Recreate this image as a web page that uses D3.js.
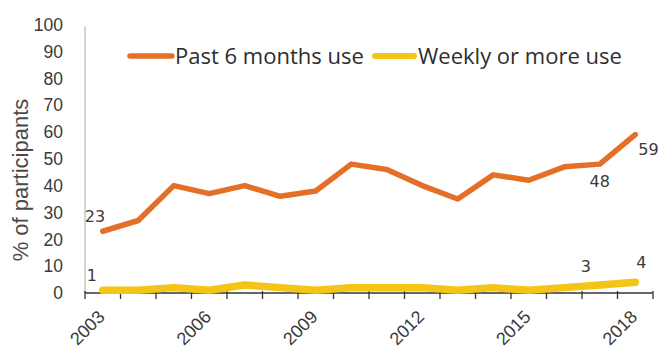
<!DOCTYPE html>
<html>
<head>
<meta charset="utf-8">
<script src="https://cdn.jsdelivr.net/npm/d3@7/dist/d3.min.js"></script>
<style>
  html, body { margin: 0; padding: 0; background: #fff; }
  svg { display: block; }
</style>
</head>
<body>
<svg id="chart" width="658" height="349"></svg>
<script>
// Survey years
const years = [2003, 2004, 2005, 2006, 2007, 2008, 2009, 2010,
               2011, 2012, 2013, 2014, 2015, 2016, 2017, 2018];
// % of participants reporting use in the past 6 months
const pastSixMonths = [23, 27, 40, 37, 40, 36, 38, 48, 46, 40, 35, 44, 42, 47, 48, 59];
// % of participants reporting weekly or more frequent use
const weeklyOrMore = [1, 1, 2, 1, 3, 2, 1, 2, 2, 2, 1, 2, 1, 2, 3, 4];
// Labelled years on the x axis
const xTickYears = [2003, 2006, 2009, 2012, 2015, 2018];
// Y axis ticks
const yTicks = [0, 10, 20, 30, 40, 50, 60, 70, 80, 90, 100];
// Series names
const seriesNames = ["Past 6 months use", "Weekly or more use"];

const svg = d3.select("#chart");
const orange = "#E46F27";
const yellow = "#F4C417";
const textColor = "#3a3a3a";

const x = d3.scaleBand().domain(years).range([85, 653]);
const y = d3.scaleLinear().domain([0, 100]).range([293, 24.5]);
const cx = d => x(d) + x.bandwidth() / 2;

// y axis: plain grey line, labels only
svg.append("line")
  .attr("x1", 85).attr("x2", 85)
  .attr("y1", y(100) + 2).attr("y2", y(0))
  .attr("stroke", "#bdbdbd").attr("stroke-width", 1.3);

svg.append("g").selectAll("text").data(yTicks).join("text")
  .attr("x", 63).attr("y", d => y(d))
  .attr("dy", "0.36em")
  .attr("text-anchor", "end")
  .attr("font-family", "'Liberation Sans', Arial, sans-serif")
  .attr("font-size", 17.5)
  .attr("fill", textColor)
  .text(d => d);

svg.append("text")
  .attr("transform", "translate(28, 180) rotate(-90)")
  .attr("text-anchor", "middle")
  .attr("font-family", "'Liberation Sans', Arial, sans-serif")
  .attr("font-size", 22)
  .attr("fill", "#4a4a4a")
  .text("% of participants");

// x axis: ticks sit on band boundaries
const boundaries = years.map(d => x(d)).concat([x.range()[1]]);
const xAxis = svg.append("g");
xAxis.append("line")
  .attr("x1", 85).attr("x2", 653)
  .attr("y1", y(0)).attr("y2", y(0))
  .attr("stroke", "#333").attr("stroke-width", 1.3);
xAxis.selectAll("line.tick").data(boundaries).join("line")
  .attr("class", "tick")
  .attr("x1", d => d).attr("x2", d => d)
  .attr("y1", y(0) - 2).attr("y2", y(0) + 6)
  .attr("stroke", "#333").attr("stroke-width", 1.3);
xAxis.selectAll("text").data(xTickYears).join("text")
  .attr("transform", d => `translate(${cx(d) + 3}, 318) rotate(-45)`)
  .attr("text-anchor", "end")
  .attr("font-family", "'Liberation Sans', Arial, sans-serif")
  .attr("font-size", 18)
  .attr("fill", textColor)
  .text(d => d);

// series lines
const line = d3.line().x((d, i) => cx(years[i])).y(d => y(d));

svg.append("path").datum(weeklyOrMore)
  .attr("d", line)
  .attr("fill", "none")
  .attr("stroke", yellow)
  .attr("stroke-width", 7.5)
  .attr("stroke-linejoin", "round")
  .attr("stroke-linecap", "round");

svg.append("path").datum(pastSixMonths)
  .attr("d", line)
  .attr("fill", "none")
  .attr("stroke", orange)
  .attr("stroke-width", 5.5)
  .attr("stroke-linejoin", "round")
  .attr("stroke-linecap", "round");

// value labels
const labelFont = "'DejaVu Sans', Verdana, sans-serif";
const labels = [
  { series: pastSixMonths, i: 0, dx: -18, dy: -9, anchor: "start" },
  { series: pastSixMonths, i: 14, dx: 0, dy: 23, anchor: "middle" },
  { series: pastSixMonths, i: 15, dx: 3, dy: 20, anchor: "start" },
  { series: weeklyOrMore, i: 0, dx: -16, dy: -9, anchor: "start" },
  { series: weeklyOrMore, i: 14, dx: -14, dy: -13, anchor: "middle" },
  { series: weeklyOrMore, i: 15, dx: 6, dy: -14, anchor: "middle" }
];
svg.append("g").selectAll("text").data(labels).join("text")
  .attr("x", d => cx(years[d.i]) + d.dx)
  .attr("y", d => y(d.series[d.i]) + d.dy)
  .attr("text-anchor", d => d.anchor)
  .attr("font-family", labelFont)
  .attr("font-size", 16)
  .attr("fill", textColor)
  .text(d => d.series[d.i]);

// legend
const legendFont = "'Open Sans', Lato, sans-serif";
const legend = svg.append("g");
const legendItems = [
  { name: seriesNames[0], color: orange, x0: 130, x1: 172, tx: 175, w: 5.5 },
  { name: seriesNames[1], color: yellow, x0: 375, x1: 414, tx: 418, w: 6 }
];
legendItems.forEach(it => {
  legend.append("line")
    .attr("x1", it.x0).attr("x2", it.x1)
    .attr("y1", 56).attr("y2", 56)
    .attr("stroke", it.color).attr("stroke-width", it.w)
    .attr("stroke-linecap", "round");
  legend.append("text")
    .attr("x", it.tx).attr("y", 56)
    .attr("dy", "0.35em")
    .attr("font-family", legendFont)
    .attr("font-size", 22)
    .attr("fill", "#2e2e2e")
    .text(it.name);
});
</script>
</body>
</html>
